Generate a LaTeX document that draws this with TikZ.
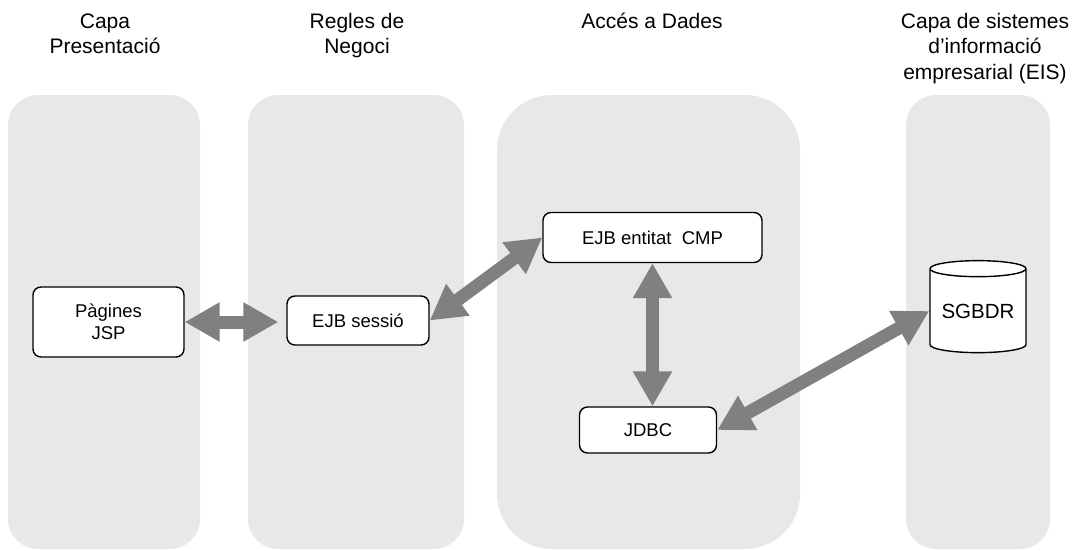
\documentclass[tikz,border=0pt]{standalone}
\usepackage{fontspec}
\setmainfont{Liberation Sans}
\usetikzlibrary{arrows.meta,shapes.geometric}
\definecolor{panelgray}{HTML}{E8E8E8}
\definecolor{arrowgray}{HTML}{808080}
\begin{document}
\begin{tikzpicture}[x=1pt,y=-1pt,
  panel/.style={fill=panelgray, rounded corners=30pt},
  title/.style={font=\fontsize{21}{25.5}\selectfont, align=center, anchor=north, inner sep=0pt},
  box/.style={draw=black, line width=1.4pt, fill=white, rounded corners=8pt,
    font=\fontsize{18.5}{22}\selectfont, align=center, inner sep=0pt},
  link/.style={draw=arrowgray, line width=13pt,
    {Triangle[width=37pt,length=35pt]}-{Triangle[width=37pt,length=35pt]}}]
\useasboundingbox (0,0) rectangle (1072,550);
% panels
\fill[panel] (8,95) rectangle (200,549);
\fill[panel] (248,95) rectangle (464,549);
\fill[panel, rounded corners=55pt] (497,95) rectangle (800,549);
\fill[panel] (906,95) rectangle (1050,549);
% titles
\node[title] (t1) at (105,10) {\strut Capa\\Presentació};
\node[title] (t2) at (357,10) {\strut Regles de\\Negoci};
\node[title] (t3) at (652,10) {\strut Accés a Dades};
\node[title] (t4) at (985,10) {\strut Capa de sistemes\\d’informació\\empresarial (EIS)};
% nodes
\node[box, minimum width=151pt, minimum height=70pt] (jsp) at (108.5,322) {Pàgines\\JSP};
\node[box, minimum width=142pt, minimum height=49pt] (sess) at (358,320.5) {EJB sessió};
\node[box, minimum width=219pt, minimum height=50pt] (ent) at (652.5,237.5) {EJB entitat\ \ CMP};
\node[box, minimum width=137pt, minimum height=46pt] (jdbc) at (648,430) {JDBC};
\node[draw=black, cylinder, shape border rotate=90, aspect=0.22, minimum width=96pt,
  minimum height=92pt, fill=white, line width=1.4pt, inner sep=0pt,
  font=\fontsize{20.5}{24}\selectfont] (db) at (978,311) {SGBDR};
% connectors
\draw[link] (jsp.east) -- ([xshift=-8pt]jsp.east -| sess.west);
\draw[link] (sess.east) -- (ent.west);
\draw[link] (ent.south) -- (ent.south |- jdbc.north);
\draw[link] (jdbc.east) -- (db.west);
\end{tikzpicture}
\end{document}
